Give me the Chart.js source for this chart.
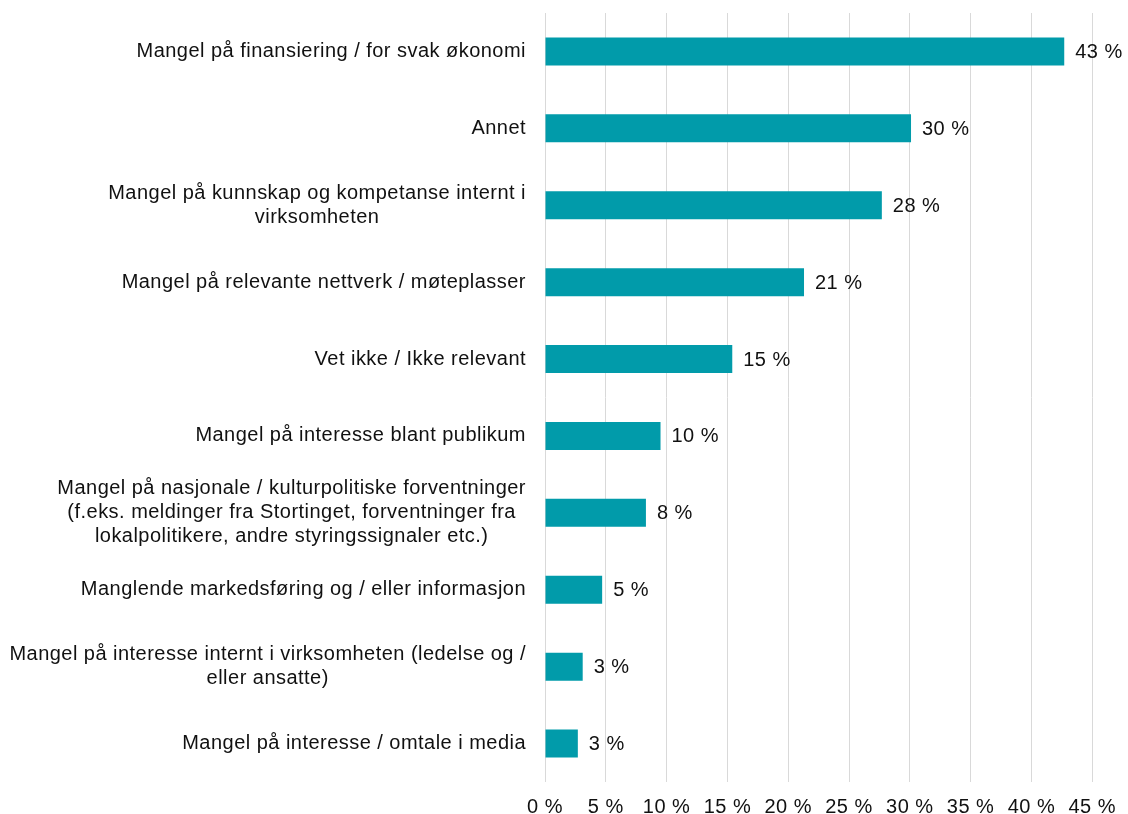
<!DOCTYPE html>
<html>
<head>
<meta charset="utf-8">
<script src="https://cdn.jsdelivr.net/npm/chart.js@4/dist/chart.umd.min.js"></script>
<style>
  html, body { margin: 0; padding: 0; background: #ffffff; }
  #wrap { width: 1128px; height: 814px; position: relative; }
</style>
</head>
<body>
<div id="wrap"><canvas id="barChart"></canvas></div>
<script>
// categories (multi-line labels as arrays)
const categories = [
    ['Mangel på finansiering / for svak økonomi'],
    ['Annet'],
    ['Mangel på kunnskap og kompetanse internt i', 'virksomheten'],
    ['Mangel på relevante nettverk / møteplasser'],
    ['Vet ikke / Ikke relevant'],
    ['Mangel på interesse blant publikum'],
    ['Mangel på nasjonale / kulturpolitiske forventninger', '(f.eks. meldinger fra Stortinget, forventninger fra', 'lokalpolitikere, andre styringssignaler etc.)'],
    ['Manglende markedsføring og / eller informasjon'],
    ['Mangel på interesse internt i virksomheten (ledelse og /', 'eller ansatte)'],
    ['Mangel på interesse / omtale i media']
];
const shares = [42.7, 30.1, 27.7, 21.3, 15.4, 9.5, 8.3, 4.7, 3.1, 2.7];
const xTicks = [0, 5, 10, 15, 20, 25, 30, 35, 40, 45];

const FONT = '"Liberation Sans", Arial, sans-serif';
const SPACING = '0.47px';
const barColor = '#019BAA';
const textColor = '#111111';

// slightly wider lettering, like the original export
const spacingPlugin = {
    id: 'spacing',
    beforeDraw(chart) { chart.ctx.letterSpacing = SPACING; }
};

// category labels: block right-aligned to the axis, lines centred inside
const yLabelPlugin = {
    id: 'yLabels',
    afterDraw(chart) {
        const ctx = chart.ctx;
        const yScale = chart.scales.y;
        const right = chart.chartArea.left - 19;
        const lineH = 24;
        ctx.save();
        ctx.letterSpacing = SPACING;
        ctx.font = '20px ' + FONT;
        ctx.fillStyle = textColor;
        ctx.textAlign = 'center';
        ctx.textBaseline = 'middle';
        categories.forEach((lines, i) => {
            const cy = yScale.getPixelForValue(i);
            const w = Math.max(...lines.map(l => ctx.measureText(l).width));
            const cx = right - w / 2;
            lines.forEach((l, j) => {
                ctx.fillText(l, cx, cy + (j - (lines.length - 1) / 2) * lineH);
            });
        });
        ctx.restore();
    }
};

// value labels at the end of each bar
const valueLabelPlugin = {
    id: 'valueLabels',
    afterDatasetsDraw(chart) {
        const ctx = chart.ctx;
        const meta = chart.getDatasetMeta(0);
        ctx.save();
        ctx.letterSpacing = SPACING;
        ctx.font = '20px ' + FONT;
        ctx.fillStyle = textColor;
        ctx.textAlign = 'left';
        ctx.textBaseline = 'middle';
        meta.data.forEach((bar, i) => {
            ctx.fillText(Math.round(shares[i]) + ' %', bar.x + 11, bar.y + 1);
        });
        ctx.restore();
    }
};

new Chart(document.getElementById('barChart'), {
    type: 'bar',
    data: {
        labels: categories,
        datasets: [{
            data: shares,
            backgroundColor: barColor,
            borderWidth: 0,
            barPercentage: 0.364,
            categoryPercentage: 1.0
        }]
    },
    options: {
        indexAxis: 'y',
        responsive: true,
        maintainAspectRatio: false,
        animation: false,
        layout: { padding: { top: 13, right: 35, left: 0, bottom: 0 } },
        scales: {
            x: {
                min: 0,
                max: 45,
                afterBuildTicks: (scale) => {
                    scale.ticks = xTicks.map(v => ({ value: v }));
                },
                afterFit: (scale) => { scale.height = 32; },
                ticks: {
                    padding: 13,
                    color: textColor,
                    font: { family: FONT, size: 20 },
                    maxRotation: 0,
                    callback: (v) => v + ' %'
                },
                grid: { color: '#d9d9d9', lineWidth: 1, drawTicks: false },
                border: { display: false }
            },
            y: {
                ticks: { display: false },
                afterFit: (scale) => { scale.width = 545; },
                grid: { display: false },
                border: { display: false }
            }
        },
        plugins: {
            legend: { display: false },
            tooltip: { enabled: false }
        }
    },
    plugins: [spacingPlugin, yLabelPlugin, valueLabelPlugin]
});
</script>
</body>
</html>
